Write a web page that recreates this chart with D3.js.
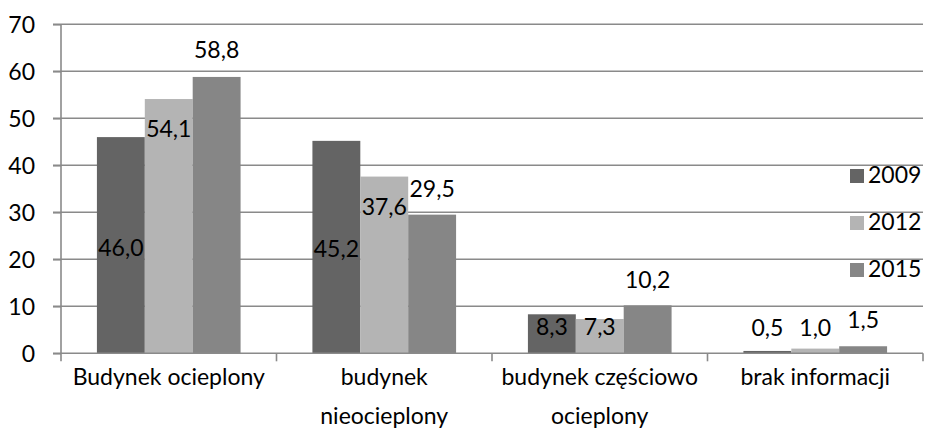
<!DOCTYPE html>
<html>
<head>
<meta charset="utf-8">
<script src="https://d3js.org/d3.v7.min.js"></script>
<style>
  body { margin: 0; background: #fff; }
  text { font-family: Lato, "Noto Sans", sans-serif; fill: #000; }
</style>
</head>
<body>
<div id="chart"></div>
<script>
// categories and series
var categories = ["Budynek ocieplony", "budynek\nnieocieplony", "budynek częściowo\nocieplony", "brak informacji"];
var years = ["2009", "2012", "2015"];
var v2009 = [46.0, 45.2, 8.3, 0.5];
var v2012 = [54.1, 37.6, 7.3, 1.0];
var v2015 = [58.8, 29.5, 10.2, 1.5];
var yTicks = [0, 10, 20, 30, 40, 50, 60, 70];

// where the data labels sit (baseline, in chart units) - they were moved by hand in the original
var lab2009 = [20.7, 20.5, 3.9, 3.6];
var lab2012 = [46.0, 29.4, 3.9, 3.6];
var lab2015 = [62.8, 33.2, 13.9, 5.4];

var colors = {"2009": "#646464", "2012": "#b4b4b4", "2015": "#868686"};
var fontSize = 23;

var W = 927, H = 434;
var plotLeft = 61, plotRight = 923, plotTop = 24.3, plotBottom = 353.3;

var svg = d3.select("#chart").append("svg")
    .attr("width", W)
    .attr("height", H);

var series = [v2009, v2012, v2015];
var labs = [lab2009, lab2012, lab2015];
var rows = [];
years.forEach(function(yr, s) {
  categories.forEach(function(c, i) {
    rows.push({year: yr, cat: c, value: series[s][i], lab: labs[s][i]});
  });
});

var x0 = d3.scaleBand().domain(categories).range([plotLeft, plotRight]).paddingInner(0).paddingOuter(0);
var x1 = d3.scaleBand().domain(years).range([0, x0.bandwidth()]).paddingInner(0).paddingOuter(0.75);
var y = d3.scaleLinear().domain([0, 70]).range([plotBottom, plotTop]);

// gridlines (also act as y ticks)
svg.append("g").selectAll("line")
  .data(yTicks.filter(function(d) { return d > 0; }))
  .enter().append("line")
    .attr("x1", plotLeft - 8)
    .attr("x2", plotRight)
    .attr("y1", function(d) { return y(d); })
    .attr("y2", function(d) { return y(d); })
    .style("stroke", "#8a8a8a")
    .style("stroke-width", 1.6);

// bars
svg.append("g").selectAll("rect")
  .data(rows)
  .enter().append("rect")
    .attr("x", function(d) { return x0(d.cat) + x1(d.year); })
    .attr("y", function(d) { return y(d.value); })
    .attr("width", x1.bandwidth())
    .attr("height", function(d) { return y(0) - y(d.value); })
    .style("fill", function(d) { return colors[d.year]; });

// y axis
var yAxis = svg.append("g")
    .attr("transform", "translate(" + plotLeft + ",0)")
    .call(d3.axisLeft(y).tickValues(yTicks).tickSize(8).tickPadding(18).tickFormat(d3.format("d")));
yAxis.select(".domain").style("stroke", "#8a8a8a").style("stroke-width", 1.6).attr("d", "M0," + plotTop + "V" + plotBottom);
yAxis.selectAll(".tick line").style("stroke", "#8a8a8a").style("stroke-width", 1.6);
yAxis.selectAll(".tick text").style("font-size", fontSize + "px").style("font-family", "Lato").attr("dy", "0.36em");

// x axis
var bounds = categories.map(function(c) { return x0(c); }).concat([plotRight]);
svg.append("line")
    .attr("x1", plotLeft - 8).attr("x2", plotRight)
    .attr("y1", plotBottom).attr("y2", plotBottom)
    .style("stroke", "#8a8a8a").style("stroke-width", 1.6);
svg.append("g").selectAll("line")
  .data(bounds)
  .enter().append("line")
    .attr("x1", function(d) { return d; }).attr("x2", function(d) { return d; })
    .attr("y1", plotBottom).attr("y2", plotBottom + 8)
    .style("stroke", "#8a8a8a").style("stroke-width", 1.6);

// category labels
var catText = svg.append("g").selectAll("text")
  .data(categories)
  .enter().append("text")
    .attr("text-anchor", "middle")
    .style("font-size", fontSize + "px")
    .attr("transform", function(d) { return "translate(" + (x0(d) + x0.bandwidth() / 2) + "," + (plotBottom + 32) + ")"; });
catText.selectAll("tspan")
  .data(function(d) { return d.split("\n"); })
  .enter().append("tspan")
    .attr("x", 0)
    .attr("y", function(d, i) { return i * 39; })
    .text(function(d) { return d; });

// data labels
svg.append("g").selectAll("text")
  .data(rows)
  .enter().append("text")
    .attr("text-anchor", "middle")
    .style("font-size", fontSize + "px")
    .attr("x", function(d) { return x0(d.cat) + x1(d.year) + x1.bandwidth() / 2; })
    .attr("y", function(d) { return y(d.lab); })
    .text(function(d) { return d3.format(".1f")(d.value).replace(".", ","); });

// legend
var legend = svg.append("g").selectAll("g")
  .data(years)
  .enter().append("g")
    .attr("transform", function(d, i) { return "translate(850," + (169 + i * 47) + ")"; });
legend.append("rect")
    .attr("width", 14).attr("height", 14)
    .style("fill", function(d) { return colors[d]; });
legend.append("text")
    .attr("x", 18).attr("y", 14)
    .style("font-size", fontSize + "px")
    .text(function(d) { return d; });
</script>
</body>
</html>
